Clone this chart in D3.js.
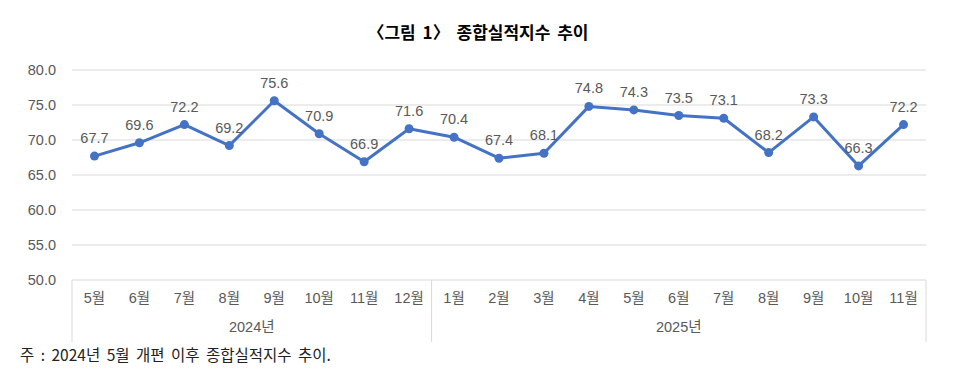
<!DOCTYPE html>
<html><head><meta charset="utf-8">
<script src="https://cdn.jsdelivr.net/npm/d3@7"></script>
<style>
html,body{margin:0;padding:0;background:#fff;}
text{font-family:"Liberation Sans","Noto Sans CJK KR",sans-serif;}
</style></head>
<body><svg id="c" width="960" height="380"></svg>
<script>
const months = ["5월","6월","7월","8월","9월","10월","11월","12월","1월","2월","3월","4월","5월","6월","7월","8월","9월","10월","11월"];
const years = ["2024년","2025년"];
const yearCounts = [8, 11];
const values = [67.7,69.6,72.2,69.2,75.6,70.9,66.9,71.6,70.4,67.4,68.1,74.8,74.3,73.5,73.1,68.2,73.3,66.3,72.2];
const yTicks = [50,55,60,65,70,75,80];
const title = "〈그림 1〉 종합실적지수 추이";
const note = "주 : 2024년 5월 개편 이후 종합실적지수 추이.";

const svg = d3.select("#c");
const pLeft = 72, pRight = 926, pTop = 70, pBottom = 280;
const idx = d3.range(values.length);
const x = d3.scaleBand().domain(idx).range([pLeft, pRight]);
const y = d3.scaleLinear().domain([50, 80]).range([pBottom, pTop]);
const grey = "#595959";

svg.append("text").attr("x", 478).attr("y", 39).attr("text-anchor","middle")
  .attr("font-size", 17).attr("font-weight","bold").attr("fill","#000")
  .attr("word-spacing", 3)
  .style("font-family","'Noto Sans CJK KR',sans-serif").text(title);

// gridlines
svg.append("g").selectAll("line").data(yTicks).join("line")
  .attr("x1", pLeft).attr("x2", pRight)
  .attr("y1", d => y(d)).attr("y2", d => y(d))
  .attr("stroke", "#d9d9d9").attr("stroke-width", 1);

// y axis labels
const yAxis = d3.axisLeft(y).tickValues(yTicks).tickFormat(d3.format(".1f")).tickSize(0).tickPadding(0);
const gy = svg.append("g").attr("transform", `translate(56,0)`).call(yAxis);
gy.select(".domain").remove();
gy.attr("font-family", null);
gy.selectAll("text").attr("font-size", 14.5).attr("fill", grey);

// category axis
const xAxis = d3.axisBottom(x).tickFormat(i => months[i]).tickSize(0).tickPadding(0);
const gx = svg.append("g").attr("transform", `translate(0,${pBottom})`).call(xAxis);
gx.select(".domain").remove();
gx.attr("font-family", null);
gx.selectAll("text").attr("font-size", 14.5).attr("fill", grey).attr("dy", null).attr("y", 23);

// group separators
let start = 0;
const bounds = [pLeft];
yearCounts.forEach(c => { start += c; bounds.push(start < values.length ? x(start) : pRight); });
svg.append("g").selectAll("line").data(bounds).join("line")
  .attr("x1", d => d).attr("x2", d => d).attr("y1", pBottom).attr("y2", 342)
  .attr("stroke", "#d9d9d9").attr("stroke-width", 1);
svg.append("g").selectAll("text").data(years).join("text")
  .attr("x", (d, i) => (bounds[i] + bounds[i+1]) / 2).attr("y", 332)
  .attr("text-anchor", "middle").attr("font-size", 14.5).attr("fill", grey).text(d => d);

// line
const cx = i => x(i) + x.bandwidth() / 2;
svg.append("path").datum(idx)
  .attr("d", d3.line().x(cx).y(i => y(values[i])))
  .attr("fill", "none").attr("stroke", "#4472C4").attr("stroke-width", 3).attr("stroke-linejoin","round");
svg.append("g").selectAll("circle").data(idx).join("circle")
  .attr("cx", cx).attr("cy", i => y(values[i])).attr("r", 4.5).attr("fill", "#4472C4");
svg.append("g").selectAll("text").data(idx).join("text")
  .attr("x", cx).attr("y", i => y(values[i]) - 13)
  .attr("text-anchor", "middle").attr("font-size", 14.5).attr("fill", grey)
  .text(i => values[i].toFixed(1));

svg.append("text").attr("x", 20).attr("y", 361).attr("font-size", 15.5).attr("fill", "#222")
  .attr("word-spacing", 3)
  .style("font-family","'Noto Sans CJK KR',sans-serif").text(note);
</script></body></html>
